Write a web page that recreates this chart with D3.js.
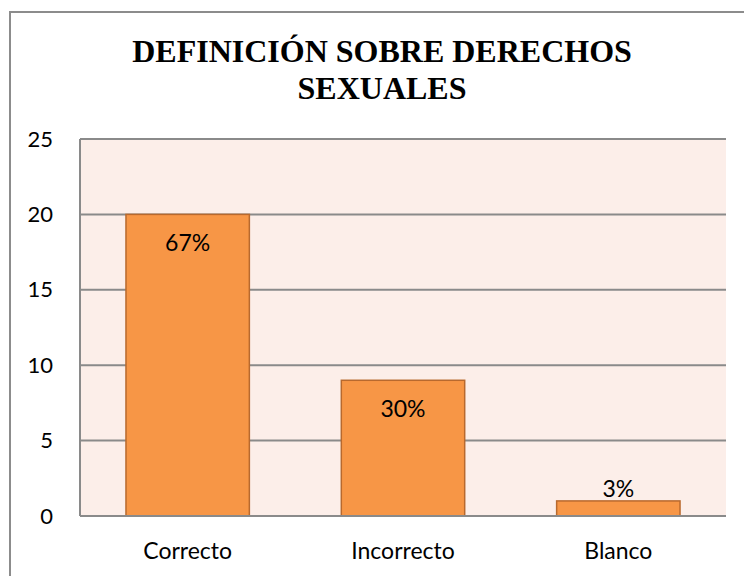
<!DOCTYPE html>
<html><head><meta charset="utf-8">
<script src="https://cdn.jsdelivr.net/npm/d3@7"></script>
<style>body{margin:0;background:#fff}svg{display:block}</style>
</head><body>
<script>
const categories = ["Correcto", "Incorrecto", "Blanco"];
const values = [20, 9, 1];
const pctLabels = ["67%", "30%", "3%"];
const yTicks = [0, 5, 10, 15, 20, 25];
const titleLines = ["DEFINICIÓN SOBRE DERECHOS", "SEXUALES"];

const W = 744, H = 576;
const m = {left: 80, right: 18, top: 139, bottom: 60};
const FONT = "Lato, 'Open Sans', sans-serif";
const svg = d3.select("body").append("svg").attr("width", W).attr("height", H);

// outer frame
svg.append("rect").attr("x", 10).attr("y", 12).attr("width", 740).attr("height", 600)
  .attr("fill", "none").attr("stroke", "#8c8c8c").attr("stroke-width", 2);

const x = d3.scaleBand().domain(categories).range([m.left, W - m.right]).paddingInner(0.427).paddingOuter(0.2135);
const y = d3.scaleLinear().domain([0, 25]).range([516, 139]);

// plot background
svg.append("rect").attr("x", m.left).attr("y", y(25)).attr("width", W - m.right - m.left)
  .attr("height", y(0) - y(25)).attr("fill", "#FCEEE9");

// gridlines
svg.append("g").selectAll("line").data(yTicks).join("line")
  .attr("x1", m.left).attr("x2", W - m.right)
  .attr("y1", d => y(d)).attr("y2", d => y(d))
  .attr("stroke", "#8a8a8a").attr("stroke-width", 2);
// left axis line
svg.append("line").attr("x1", m.left).attr("x2", m.left).attr("y1", y(25)).attr("y2", y(0))
  .attr("stroke", "#8a8a8a").attr("stroke-width", 2);

// y axis labels
const yAxis = d3.axisLeft(y).tickValues(yTicks).tickSize(0).tickPadding(27);
const ya = svg.append("g").attr("transform", `translate(${m.left},0)`).call(yAxis);
ya.select(".domain").remove();
ya.selectAll("text").attr("font-family", FONT).attr("font-size", 22).attr("fill", "#000");

// bars
svg.append("g").selectAll("rect").data(values).join("rect")
  .attr("x", (d, i) => x(categories[i])).attr("width", x.bandwidth())
  .attr("y", d => y(d)).attr("height", d => y(0) - y(d))
  .attr("fill", "#F79646").attr("stroke", "#B8692E").attr("stroke-width", 1.5);

// redraw baseline over bars
svg.append("line").attr("x1", m.left).attr("x2", W - m.right).attr("y1", y(0)).attr("y2", y(0))
  .attr("stroke", "#8a8a8a").attr("stroke-width", 2);

// data labels
svg.append("g").selectAll("text").data(values).join("text")
  .attr("x", (d, i) => x(categories[i]) + x.bandwidth() / 2)
  .attr("y", d => (y(0) - y(d) > 45) ? y(d) + 37 : y(d) - 4)
  .attr("text-anchor", "middle")
  .attr("font-family", FONT).attr("font-size", 23).attr("fill", "#000")
  .text((d, i) => pctLabels[i]);

// x axis labels
const xAxis = d3.axisBottom(x).tickSize(0).tickPadding(27);
const xa = svg.append("g").attr("transform", `translate(0,${y(0)})`).call(xAxis);
xa.select(".domain").remove();
xa.selectAll("text").attr("font-family", FONT).attr("font-size", 23).attr("fill", "#000");

// title
svg.append("g").selectAll("text").data(titleLines).join("text")
  .attr("x", (W - m.right + 10) / 2 + 14).attr("y", (d, i) => 62 + i * 37)
  .attr("text-anchor", "middle")
  .attr("font-family", "'Liberation Serif', 'Times New Roman', serif").attr("font-weight", "bold")
  .attr("font-size", 32).attr("fill", "#000")
  .text(d => d);
</script>
</body></html>
